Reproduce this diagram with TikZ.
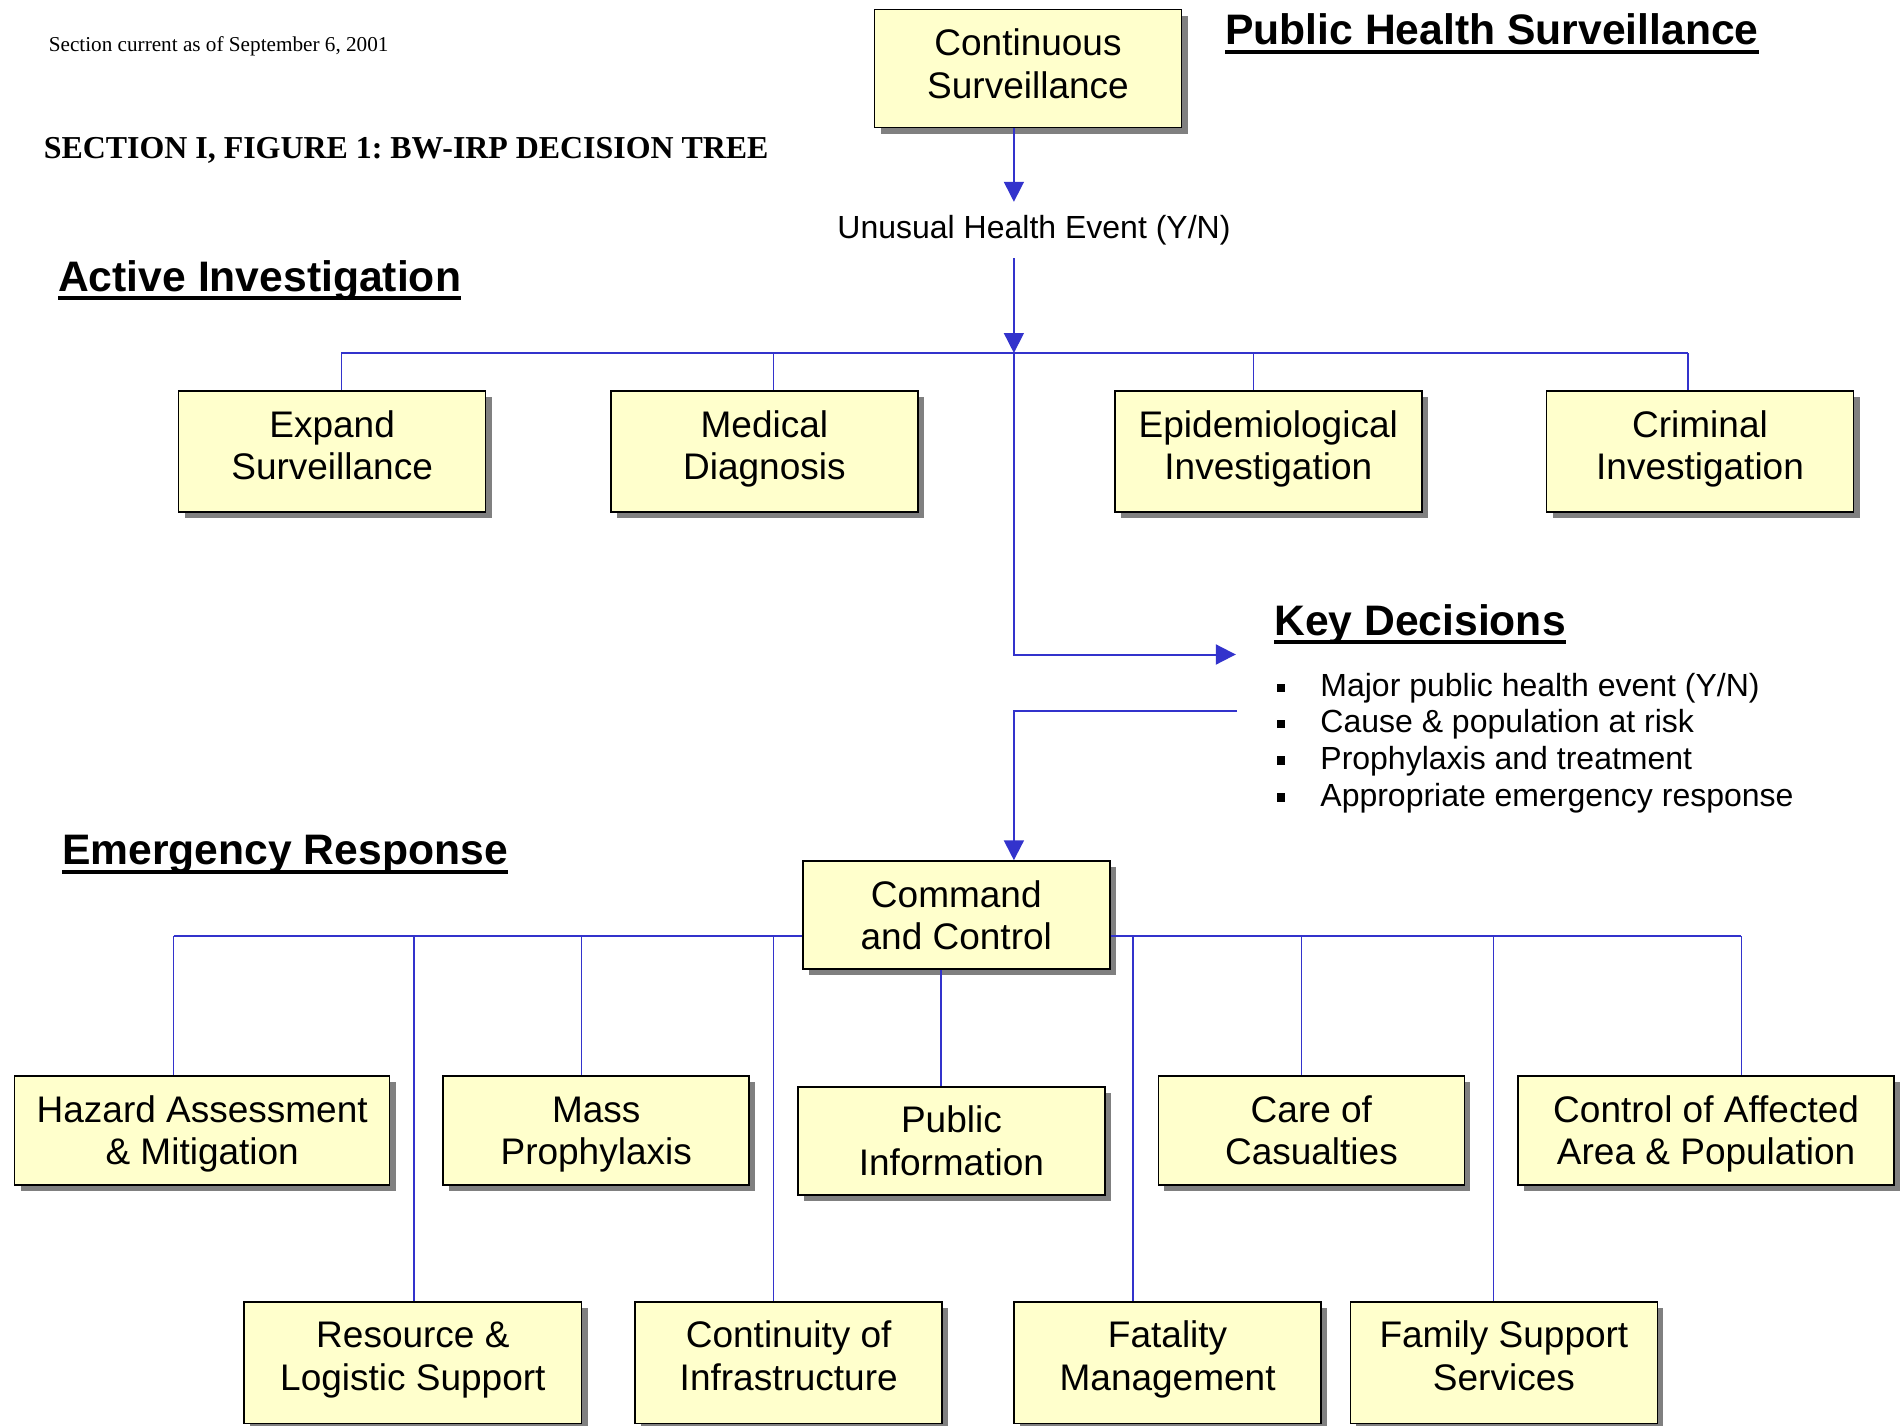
\documentclass[tikz,border=0pt]{standalone}
\usepackage{fontspec}
\setmainfont{Liberation Sans}
\newfontfamily\timesf{Liberation Serif}
\usetikzlibrary{arrows.meta,shadows}
\definecolor{lineblue}{RGB}{51,51,204}
\definecolor{boxfill}{RGB}{255,255,204}
\newcommand{\boxtext}[3]{\parbox[c][#2][t]{#1}{\centering\rule{0pt}{46pt}#3}}
\frenchspacing
\begin{document}
\begin{tikzpicture}[x=1pt,y=-1pt,
  box/.style={draw=black, line width=1.5pt, fill=boxfill, inner sep=0pt,
    font=\fontsize{37}{42.5}\selectfont,
    drop shadow={shadow xshift=6pt, shadow yshift=-6pt, fill=black!50, opacity=1}},
  head/.style={font=\fontsize{42.65}{49}\selectfont\bfseries, inner sep=0pt, anchor=base west},
  uline/.style={line width=4pt},
  bul/.style={font=\fontsize{32}{38}\selectfont, anchor=base west, inner sep=0pt},
  arr/.style={draw=lineblue, line width=1.6pt, -{Triangle[length=20pt,width=20pt]}},
  arrH/.style={draw=lineblue, line width=2pt, -{Triangle[length=20pt,width=20pt]}},
  hl/.style={draw=lineblue, line width=2pt},
  vl/.style={draw=lineblue, line width=1.3pt}]
\useasboundingbox (0,0) rectangle (1904,1426);

% serif texts
\node[font=\timesf\fontsize{21.2}{25}\selectfont, anchor=base west, inner sep=0pt] (date) at (48.6,52) {Section current as of September 6, 2001};
\node[font=\timesf\bfseries\fontsize{31.9}{36}\selectfont, anchor=base west, inner sep=0pt] (title) at (43.7,158) {SECTION I, FIGURE 1: BW-IRP DECISION TREE};

% headings
\node[head] (ph) at (1225,45) {Public Health Surveillance};
\draw[uline] ([yshift=-7pt]ph.base west) -- ([yshift=-7pt]ph.base east);
\node[head] (ai) at (58,291) {Active Investigation};
\draw[uline] ([yshift=-7pt]ai.base west) -- ([yshift=-7pt]ai.base east);
\node[head] (kd) at (1274,635) {Key Decisions};
\draw[uline] ([yshift=-7pt]kd.base west) -- ([yshift=-7pt]kd.base east);
\node[head] (er) at (62,864) {Emergency Response};
\draw[uline] ([yshift=-8pt]er.base west) -- ([yshift=-8pt]er.base east);

% key decisions list
\node[bul] (k1) at (1277,696.7) {\rule[4.5pt]{8pt}{8.5pt}\hspace{35.2pt}Major public health event (Y/N)};
\node[bul] (k2) at (1277,732.7) {\rule[4.5pt]{8pt}{8.5pt}\hspace{35.2pt}Cause \& population at risk};
\node[bul] (k3) at (1277,769.3) {\rule[4.5pt]{8pt}{8.5pt}\hspace{35.2pt}Prophylaxis and treatment};
\node[bul] (k4) at (1277,806) {\rule[4.5pt]{8pt}{8.5pt}\hspace{35.2pt}Appropriate emergency response};

% boxes
\node[box] (cont) at (1028,68.6) {\boxtext{307pt}{118pt}{Continuous\\Surveillance}};
\node[font=\fontsize{32}{38}\selectfont, inner sep=0pt, minimum height=56pt] (unusual) at (1034,230) {Unusual Health Event (Y/N)};

\node[box] (expand) at (332.1,451.7) {\boxtext{307pt}{121pt}{Expand\\Surveillance}};
\node[box] (medical) at (764.4,451.7) {\boxtext{307pt}{121pt}{Medical\\Diagnosis}};
\node[box] (epi) at (1268.3,451.7) {\boxtext{307pt}{121pt}{Epidemiological\\Investigation}};
\node[box] (crim) at (1700,451.7) {\boxtext{307pt}{121pt}{Criminal\\Investigation}};

\node[box] (cmd) at (956.3,915) {\boxtext{307pt}{108pt}{Command\\and Control}};

\node[box] (hazard) at (202.2,1130.5) {\boxtext{375pt}{109pt}{Hazard Assessment\\\& Mitigation}};
\node[box] (mass) at (596.2,1130.5) {\boxtext{306pt}{109pt}{Mass\\Prophylaxis}};
\node[box] (pubinfo) at (951.4,1140.8) {\boxtext{307pt}{108pt}{Public\\Information}};
\node[box] (care) at (1311.4,1130.5) {\boxtext{306pt}{109pt}{Care of\\Casualties}};
\node[box] (control) at (1706.1,1130.5) {\boxtext{376pt}{109pt}{Control of Affected\\Area \& Population}};

\node[box] (resource) at (412.9,1362.5) {\boxtext{337.5pt}{121.5pt}{Resource \&\\Logistic Support}};
\node[box] (continuity) at (788.7,1362.5) {\boxtext{307pt}{121.5pt}{Continuity of\\Infrastructure}};
\node[box] (fatality) at (1167.6,1362.5) {\boxtext{307pt}{121.5pt}{Fatality\\Management}};
\node[box] (family) at (1503.9,1362.5) {\boxtext{307pt}{121.5pt}{Family Support\\Services}};

% junction coordinates
\coordinate (j1) at (1013.9,353);
\coordinate (a1) at (341.2,353);
\coordinate (a2) at (773.5,353);
\coordinate (a3) at (1253.2,353);
\coordinate (a4) at (1687.9,353);
\coordinate (kin) at (1235.8,654.5);
\coordinate (kout) at (1237,710.7);
\coordinate (c1) at (173.6,936);
\coordinate (c2) at (414.1,936);
\coordinate (c3) at (581.6,936);
\coordinate (c4) at (773.5,936);
\coordinate (c5) at (1133,936);
\coordinate (c6) at (1301.7,936);
\coordinate (c7) at (1493.6,936);
\coordinate (c8) at (1741.3,936);
\coordinate (pv) at (941.1,969);

% connectors
\draw[arr] (cont.south -| j1) -- (unusual.north -| j1);
\draw[arr] (unusual.south -| j1) -- (j1);
\draw[hl] (a1) -- (a4);
\foreach \c/\n in {a1/expand,a2/medical,a3/epi,a4/crim}
  \draw[vl] (\c) -- (\c |- \n.north);
\draw[arrH] (j1) -- (j1 |- kin) -- (kin);
\draw[arrH] (kout) -- (kout -| j1) -- (j1 |- cmd.north);
\draw[hl] (c1) -- (c1 -| cmd.west);
\draw[hl] (c1 -| cmd.east) -- (c8);
\foreach \c/\n in {c1/hazard,c2/resource,c3/mass,c4/continuity,c5/fatality,c6/care,c7/family,c8/control}
  \draw[vl] (\c) -- (\c |- \n.north);
\draw[vl] (pv |- cmd.south) -- (pv |- pubinfo.north);
\end{tikzpicture}
\end{document}
